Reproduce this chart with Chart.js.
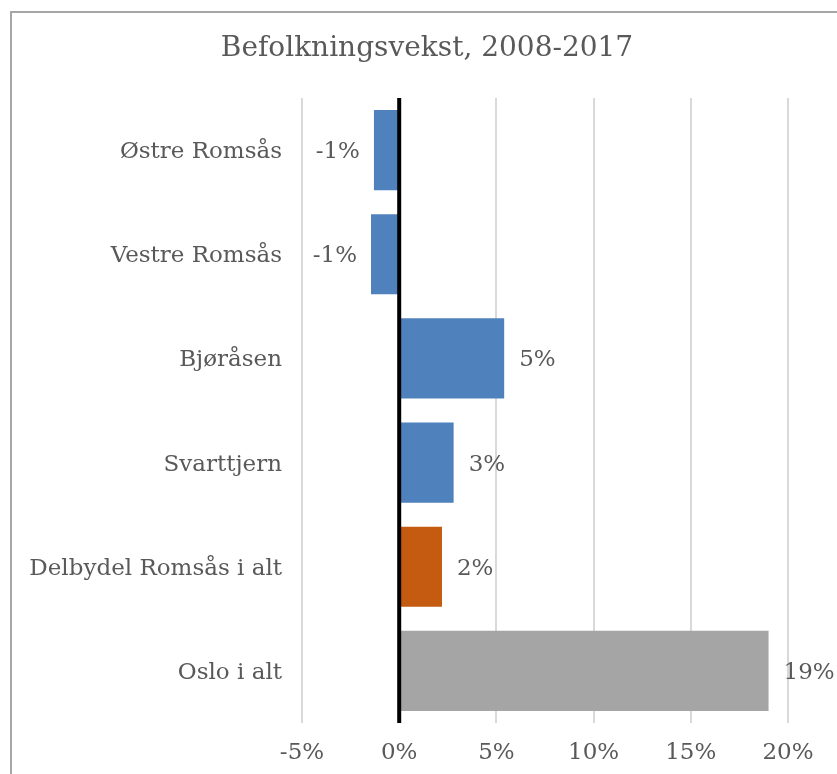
<!DOCTYPE html>
<html>
<head>
<meta charset="utf-8">
<script src="https://cdn.jsdelivr.net/npm/chart.js@4/dist/chart.umd.min.js"></script>
<style>
html,body{margin:0;padding:0;background:#fff;}
#wrap{width:837px;height:774px;position:relative;}
</style>
</head>
<body>
<div id="wrap"><canvas id="c" width="837" height="774"></canvas></div>
<script>
const titleText = 'Befolkningsvekst, 2008-2017';
const categories = ['Østre Romsås', 'Vestre Romsås', 'Bjøråsen', 'Svarttjern', 'Delbydel Romsås i alt', 'Oslo i alt'];
const values = [-1.3, -1.45, 5.4, 2.8, 2.2, 19.0];
const valueLabels = ['-1%', '-1%', '5%', '3%', '2%', '19%'];
const barColors = ['#4F81BD', '#4F81BD', '#4F81BD', '#4F81BD', '#C55A11', '#A5A5A5'];
const xMin = -5, xMax = 20, xStep = 5;

const SERIF = '"DejaVu Serif", serif';
const TEXT = '#595959';

const decor = {
  id: 'decor',
  beforeDraw(chart) {
    const ctx = chart.ctx;
    ctx.save();
    ctx.fillStyle = '#fff';
    ctx.fillRect(0, 0, chart.width, chart.height);
    ctx.strokeStyle = '#A6A6A6';
    ctx.lineWidth = 2;
    ctx.strokeRect(11, 12, 900, 900);
    ctx.restore();
  },
  afterDatasetsDraw(chart) {
    const ctx = chart.ctx;
    const xs = chart.scales.x;
    const area = chart.chartArea;
    const x0 = xs.getPixelForValue(0);
    ctx.save();
    ctx.strokeStyle = '#000';
    ctx.lineWidth = 4;
    ctx.beginPath();
    ctx.moveTo(x0, area.top);
    ctx.lineTo(x0, area.bottom);
    ctx.stroke();
    // value labels
    const meta = chart.getDatasetMeta(0);
    ctx.font = '23px ' + SERIF;
    ctx.fillStyle = TEXT;
    ctx.textBaseline = 'middle';
    meta.data.forEach((bar, i) => {
      const v = values[i];
      if (v >= 0) {
        ctx.textAlign = 'left';
        ctx.fillText(valueLabels[i], bar.x + 15, bar.y + 2);
      } else {
        ctx.textAlign = 'right';
        ctx.fillText(valueLabels[i], bar.x - 14, bar.y + 2);
      }
    });
    // title
    ctx.font = '28px ' + SERIF;
    ctx.textAlign = 'center';
    ctx.fillText(titleText, 427, 49);
    ctx.restore();
  }
};

new Chart(document.getElementById('c'), {
  type: 'bar',
  data: {
    labels: categories,
    datasets: [{
      data: values,
      backgroundColor: barColors,
      borderWidth: 0,
      barPercentage: 0.77,
      categoryPercentage: 1.0
    }]
  },
  plugins: [decor],
  options: {
    indexAxis: 'y',
    responsive: false,
    animation: false,
    devicePixelRatio: 1,
    layout: { padding: { left: 0, right: 49, top: 98, bottom: 0 } },
    plugins: {
      legend: { display: false },
      title: { display: false },
      tooltip: { enabled: false }
    },
    scales: {
      x: {
        min: xMin, max: xMax,
        ticks: {
          stepSize: xStep,
          color: TEXT,
          font: { family: SERIF, size: 23 },
          padding: 16,
          callback: v => v + '%'
        },
        grid: { color: '#D9D9D9', lineWidth: 2, drawTicks: false },
        border: { display: false },
        afterFit(s) { s.height = 51; }
      },
      y: {
        ticks: {
          color: TEXT,
          font: { family: SERIF, size: 23 },
          padding: 20,
          labelOffset: 2
        },
        grid: { display: false, drawTicks: false },
        border: { display: false },
        afterFit(s) { s.width = 302; }
      }
    }
  }
});
</script>
</body>
</html>
